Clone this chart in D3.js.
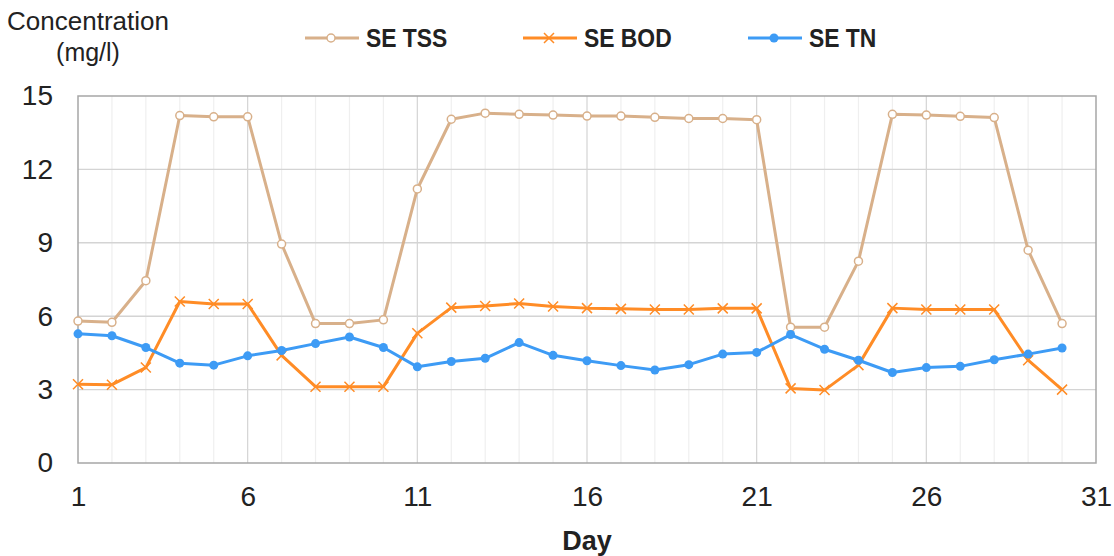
<!DOCTYPE html>
<html><head><meta charset="utf-8">
<script src="https://cdn.jsdelivr.net/npm/d3@7"></script>
<style>body{margin:0;background:#fff}svg{display:block}</style>
</head><body><svg id="c" width="1114" height="556"></svg>
<script>
const days = d3.range(1, 31);
const tss = [5.8,5.75,7.45,14.2,14.15,14.15,8.95,5.7,5.7,5.85,11.2,14.05,14.3,14.25,14.22,14.18,14.18,14.13,14.08,14.08,14.03,5.55,5.55,8.25,14.25,14.22,14.17,14.12,8.7,5.7];
const bod = [3.22,3.2,3.9,6.6,6.5,6.5,4.4,3.12,3.12,3.12,5.3,6.35,6.42,6.52,6.4,6.33,6.3,6.27,6.27,6.32,6.32,3.05,2.98,4.0,6.33,6.27,6.27,6.27,4.2,3.0];
const tn = [5.28,5.2,4.72,4.08,4.0,4.38,4.6,4.88,5.15,4.72,3.93,4.15,4.28,4.92,4.4,4.18,3.98,3.8,4.02,4.45,4.52,5.25,4.65,4.2,3.7,3.9,3.95,4.22,4.45,4.7];
const xTicks = [1,6,11,16,21,26,31];
const yTicks = [0,3,6,9,12,15];
const seriesNames = ["SE TSS","SE BOD","SE TN"];
const colors = ["#d8b08a","#ff8c26","#3d9bf5"];
const FONT = "Liberation Sans, Arial, sans-serif";

const svg = d3.select("#c");
const L=78,R=1096,T=96,B=463;
const x = d3.scaleLinear().domain([1,31]).range([L,R]);
const y = d3.scaleLinear().domain([0,15]).range([B,T]);

// grid
svg.append("g").selectAll("line").data(d3.range(2,31)).join("line")
  .attr("x1",d=>x(d)).attr("x2",d=>x(d)).attr("y1",T).attr("y2",B)
  .attr("stroke",d=>(d-1)%5===0?"#d4d4d4":"#efefef").attr("stroke-width",1.2);
svg.append("g").selectAll("line").data(yTicks.slice(1,-1)).join("line")
  .attr("x1",L).attr("x2",R).attr("y1",d=>y(d)).attr("y2",d=>y(d))
  .attr("stroke","#d4d4d4").attr("stroke-width",1.4);
svg.append("rect").attr("x",L).attr("y",T).attr("width",R-L).attr("height",B-T)
  .attr("fill","none").attr("stroke","#a6a6a6").attr("stroke-width",1.5);

// axes
const yAxis = svg.append("g").attr("transform",`translate(${L},0)`)
  .call(d3.axisLeft(y).tickValues(yTicks).tickSize(0).tickPadding(25));
const xAxis = svg.append("g").attr("transform",`translate(0,${B})`)
  .call(d3.axisBottom(x).tickValues(xTicks).tickSize(0).tickPadding(23));
[yAxis,xAxis].forEach(a=>{a.select(".domain").remove();
  a.selectAll("text").attr("font-family",FONT).attr("font-size",28).attr("fill","#222");});

function txt(xp,yp,s,size,weight,sx){
  svg.append("g").attr("transform",`translate(${xp},${yp}) scale(${sx},1)`)
   .append("text").attr("text-anchor","middle").attr("font-family",FONT)
   .attr("font-weight",weight).attr("font-size",size).attr("fill","#222").text(s);
}
txt(587,550,"Day",27,"bold",1);
txt(88,30,"Concentration",26,"normal",1);
txt(88,61,"(mg/l)",25,"normal",1);

const data = [tss,bod,tn];
const line = d3.line().x((d,i)=>x(days[i])).y(d=>y(d));
function marker(g,k,cx,cy){
  if(k===0){g.append("circle").attr("cx",cx).attr("cy",cy).attr("r",4).attr("fill","#fff").attr("stroke",colors[0]).attr("stroke-width",1.5);}
  else if(k===1){const s=5;g.append("path").attr("d",`M${cx-s},${cy-s}L${cx+s},${cy+s}M${cx-s},${cy+s}L${cx+s},${cy-s}`).attr("stroke",colors[1]).attr("stroke-width",1.5);}
  else {g.append("circle").attr("cx",cx).attr("cy",cy).attr("r",4.5).attr("fill",colors[2]);}
}
data.forEach((vals,k)=>{
  const g = svg.append("g");
  g.append("path").attr("d",line(vals)).attr("fill","none").attr("stroke",colors[k]).attr("stroke-width",3).attr("stroke-linejoin","round");
  vals.forEach((v,i)=>marker(g,k,x(days[i]),y(v)));
});

// legend
const legX=[305,523,748];
seriesNames.forEach((n,k)=>{
  const g=svg.append("g");
  g.append("line").attr("x1",legX[k]).attr("x2",legX[k]+54).attr("y1",38).attr("y2",38).attr("stroke",colors[k]).attr("stroke-width",3);
  marker(g,k,legX[k]+26,38);
  svg.append("g").attr("transform",`translate(${legX[k]+61},47) scale(0.88,1)`)
   .append("text").attr("font-family",FONT).attr("font-weight","bold").attr("font-size",26).attr("fill","#222").text(n);
});
</script></body></html>
